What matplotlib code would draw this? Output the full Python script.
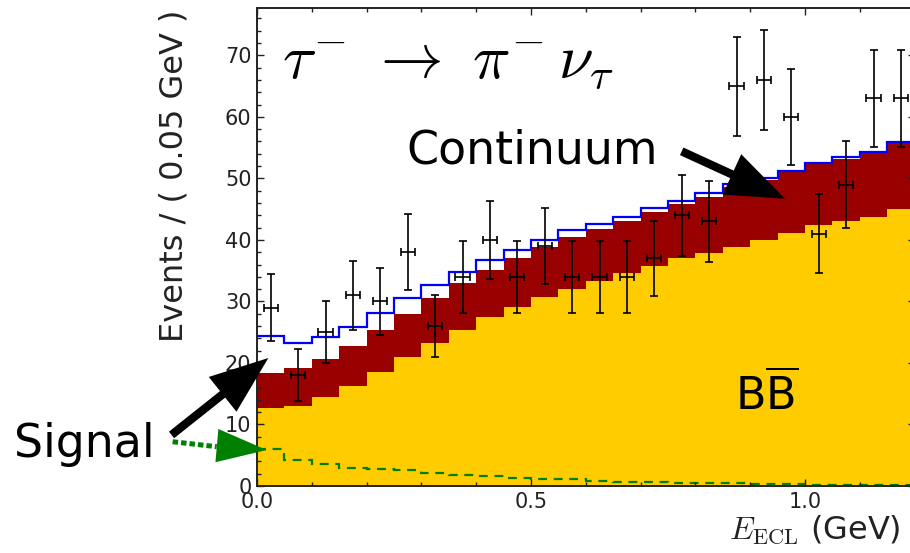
import numpy as np
import matplotlib
matplotlib.use("Agg")
import matplotlib.pyplot as plt

plt.rcParams['font.family'] = ['DejaVu Sans']
plt.rcParams['mathtext.fontset'] = 'cm'

# Binning: 24 bins of 0.05 GeV
bin_width = 0.05
edges = np.arange(25) * bin_width
centers = edges[:-1] + bin_width / 2

# Data counts per bin
data = np.array([29, 18, 25, 31, 30, 38, 26, 34, 40, 34, 39, 34,
                 34, 34, 37, 44, 43, 65, 66, 60, 41, 49, 63, 63])

# BB-bar background (yellow)
bbbar = np.array([12.6, 13.0, 14.5, 16.3, 18.5, 20.9, 23.3, 25.4, 27.5, 29.1, 30.8, 32.1,
                  33.4, 34.6, 35.8, 37.0, 37.8, 38.8, 40.0, 41.2, 42.4, 43.0, 43.7, 45.0])

# Continuum background (dark red, stacked on BB-bar)
continuum = np.array([5.8, 6.1, 6.2, 6.5, 6.8, 7.0, 7.2, 7.6, 7.6, 7.9, 8.0, 8.3,
                      8.3, 8.5, 8.7, 8.8, 9.2, 9.8, 9.8, 9.8, 9.9, 10.2, 10.4, 10.8])

# Signal component (green dashed)
signal = np.array([6.0, 4.2, 3.6, 3.0, 2.8, 2.6, 2.1, 1.8, 1.7, 1.3, 1.2, 1.2,
                   0.85, 0.7, 0.7, 0.55, 0.55, 0.45, 0.25, 0.25, 0.2, 0.2, 0.15, 0.15])

bkg_top = bbbar + continuum
total = bkg_top + signal

fig = plt.figure(figsize=(9.1, 5.53), dpi=100)
ax = fig.add_axes([257 / 910, 67 / 553, 657.6 / 910, 478 / 553])

ax.stairs(bbbar, edges, fill=True, color='#FFCC00', baseline=0)
ax.stairs(bkg_top, edges, fill=True, color='#990000', baseline=bbbar)
ax.stairs(signal, edges, baseline=None, color='#007F00', lw=1.6, linestyle=(0, (4, 3)))
ax.stairs(total, edges, baseline=None, color='#0000FF', lw=1.6)

ax.errorbar(centers, data, yerr=np.sqrt(data), xerr=0.013, fmt='none',
            ecolor='black', elinewidth=1.2, capsize=2.9, capthick=1.2)

ax.set_xlim(0, 1.2)
ax.set_ylim(0, 77.7)
ax.set_xticks([0.0, 0.5, 1.0])
ax.set_xticks(np.arange(0, 1.21, 0.1), minor=True)
ax.set_yticks(np.arange(0, 71, 10))
ax.set_yticks(np.arange(0, 78, 2), minor=True)
ax.tick_params(which='both', direction='in', top=True, right=True,
               labelsize=15, colors='#222222', pad=4)
ax.tick_params(which='major', length=5, width=1)
ax.tick_params(which='minor', length=3, width=1)
for s in ax.spines.values():
    s.set_linewidth(1.4)
    s.set_color('#222222')

ax.set_ylabel('Events / ( 0.05 GeV )', fontsize=23, loc='top', color='#222222')
ax.yaxis.set_label_coords(-0.102, 0.996)
ax.set_xlabel(r'$E_{\rm ECL}$ (GeV)', fontsize=23, loc='right', color='#222222')
ax.xaxis.set_label_coords(0.978, -0.058)

# Labels and arrows
ax.text(0.046, 66.3, r'$\tau^{-}\ \rightarrow\ \pi^{-}\,\nu_{\tau}$', fontsize=45,
        ha='left', va='baseline')
ax.text(0.502, 52.5, 'Continuum', fontsize=33, ha='center', va='baseline')
ax.text(0.929, 12.4, r'B$\overline{\mathrm{B}}$', fontsize=32, ha='center',
        va='baseline', math_fontfamily='dejavusans')
ax.text(-0.316, 4.7, 'Signal', fontsize=33, ha='center', va='baseline',
        clip_on=False)

black_arrow = dict(arrowstyle='simple,head_length=4.2,head_width=3.2,tail_width=0.6',
                   color='black', lw=0, shrinkA=0, shrinkB=0, mutation_scale=10)
ax.annotate('', xy=(0.9635, 46.7), xytext=(0.775, 54.4), arrowprops=black_arrow,
            annotation_clip=False)
ax.annotate('', xy=(0.0206, 20.8), xytext=(-0.156, 8.3), arrowprops=black_arrow,
            annotation_clip=False)

# green signal arrow: dotted shaft plus solid head
ax.plot([-0.154, -0.0735], [7.2, 6.39], color='#008000', lw=3.6,
        linestyle=(0, (1.1, 0.6)), clip_on=False, solid_capstyle='butt')
ax.annotate('', xy=(0.0177, 5.85), xytext=(-0.154, 7.2),
            arrowprops=dict(arrowstyle='-|>,head_length=3.6,head_width=1.2',
                            facecolor='#008000', edgecolor='none', lw=0,
                            shrinkA=0, shrinkB=0, mutation_scale=10),
            annotation_clip=False)

fig.savefig('out.png', dpi=100)
